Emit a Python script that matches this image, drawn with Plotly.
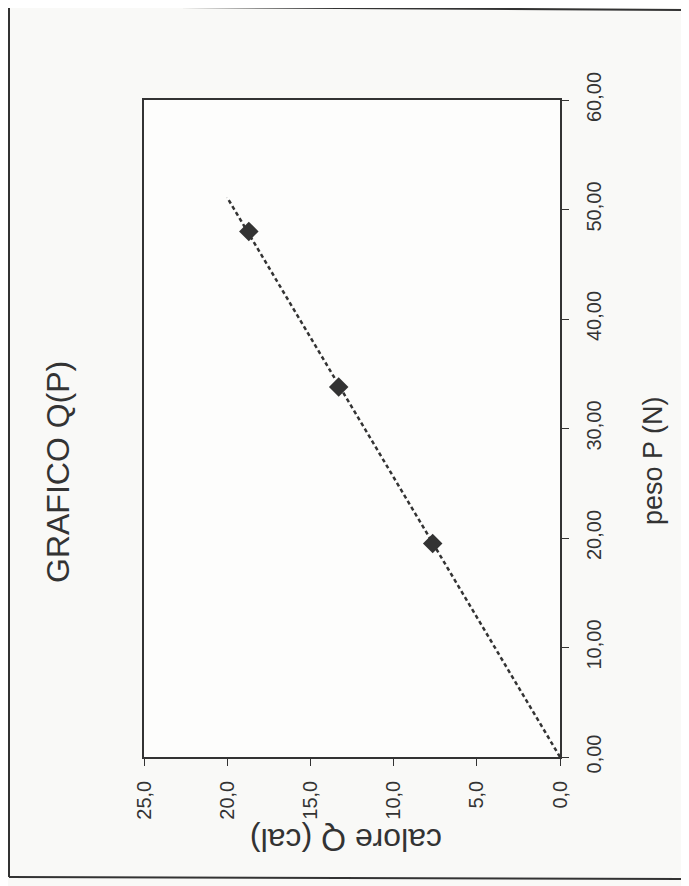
import plotly.graph_objects as go

# data read from the (rotated) chart
peso_P = [19.5, 33.8, 48.0]          # N
calore_Q = [7.65, 13.3, 18.7]        # cal
trend_P = [0.0, 51.1]
trend_Q = [0.0, 20.0]

q_ticks = [0, 5, 10, 15, 20, 25]
q_labels = ["0,0", "5,0", "10,0", "15,0", "20,0", "25,0"]
p_ticks = [0, 10, 20, 30, 40, 50, 60]
p_labels = ["0,00", "10,00", "20,00", "30,00", "40,00", "50,00", "60,00"]

OFF = 8  # browser body margin
W, H = 689 - OFF, 886 - OFF
L, T = 144 - OFF, 100 - OFF
R = W - (560 - OFF)
B = H - (757 - OFF)
pw, ph = W - L - R, H - T - B


def px(x):
    return (x - OFF - L) / pw


def py(y):
    return (H - B - (y - OFF)) / ph


ink = "#333333"
font = "Liberation Sans, Arial, sans-serif"
tick_font = dict(size=20, family=font, color=ink)

fig = go.Figure()
fig.add_trace(go.Scatter(
    x=trend_Q, y=trend_P, mode="lines",
    line=dict(color=ink, width=2.5, dash="4px,3px"),
    showlegend=False, hoverinfo="skip"))
fig.add_trace(go.Scatter(
    x=calore_Q, y=peso_P, mode="markers",
    marker=dict(symbol="diamond", size=15, color=ink),
    showlegend=False))

fig.update_layout(
    width=W, height=H,
    margin=dict(l=L, r=R, t=T, b=B, autoexpand=False),
    paper_bgcolor="#f9f9f7",
    plot_bgcolor="#fdfdfc",
    font=dict(family=font, color=ink, size=20),
    xaxis=dict(range=[25, 0], tickvals=q_ticks, ticktext=q_labels,
               tickangle=-90, ticks="outside", ticklen=7, tickcolor=ink,
               ticklabelstandoff=7,
               showline=True, linecolor=ink, linewidth=1.5, mirror=True,
               showgrid=False, zeroline=False, automargin=False,
               tickfont=tick_font),
    yaxis=dict(range=[0, 60], tickvals=p_ticks, ticktext=p_labels,
               side="right", tickangle=-90, ticks="outside", ticklen=7,
               ticklabelstandoff=8,
               tickcolor=ink, showline=True, linecolor=ink, linewidth=1.5,
               mirror=True, showgrid=False, zeroline=False, automargin=False,
               tickfont=tick_font),
    annotations=[
        dict(text="GRAFICO Q(P)", x=px(58), y=py(472), xref="paper",
             yref="paper", textangle=-90, showarrow=False,
             xanchor="center", yanchor="middle",
             font=dict(size=32, family=font, color=ink)),
        dict(text="peso P (N)", x=px(653), y=py(461), xref="paper",
             yref="paper", textangle=-90, showarrow=False,
             xanchor="center", yanchor="middle",
             font=dict(size=27, family=font, color=ink)),
        dict(text="calore Q (cal)", x=px(346), y=py(840), xref="paper",
             yref="paper", textangle=180, showarrow=False,
             xanchor="center", yanchor="middle",
             font=dict(size=32, family=font, color=ink)),
    ],
    shapes=[
        dict(type="line", xref="paper", yref="paper",
             x0=px(9), x1=px(9), y0=py(6), y1=py(877),
             line=dict(color=ink, width=2)),
        dict(type="line", xref="paper", yref="paper",
             x0=px(9), x1=px(689), y0=py(6), y1=py(10),
             line=dict(color=ink, width=2)),
        dict(type="line", xref="paper", yref="paper",
             x0=px(9), x1=px(689), y0=py(877), y1=py(879),
             line=dict(color=ink, width=2)),
    ],
)

fig.write_html("out.html")
